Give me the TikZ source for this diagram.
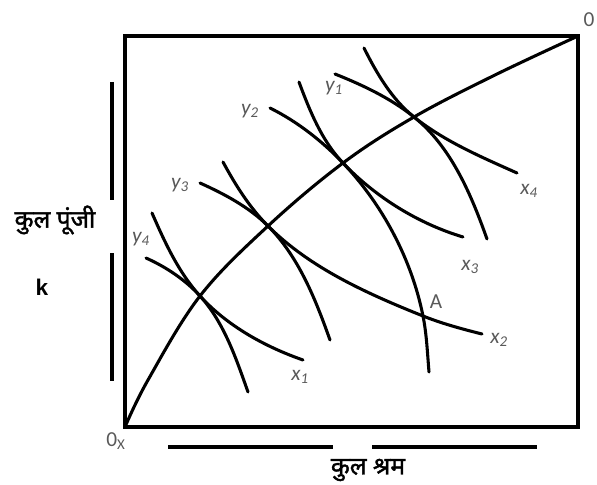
\documentclass[tikz,border=0pt]{standalone}
\usepackage{fontspec}
\setmainfont{Carlito}
\newfontfamily\hindi[Script=Devanagari, FakeBold=1.6]{Noto Sans}
\newfontfamily\boldsans{Liberation Sans}
\usepackage{xcolor}
\usepackage{tikz}
\usetikzlibrary{positioning, calc}
\definecolor{labelgray}{gray}{0.35}
\newcommand{\iso}[2]{#1\textsubscript{#2}}

\begin{document}
\begin{tikzpicture}[
    x=0.75pt, y=-0.75pt,
    box/.style={line width=2.4pt},
    curve/.style={line width=2.3pt, line cap=round},
    guide/.style={line width=2.4pt},
    lbl/.style={text=labelgray, font=\fontsize{16}{18}\selectfont\itshape, inner sep=0pt},
    hin/.style={font=\hindi\fontsize{18.5}{20}\selectfont, inner sep=0pt}
]
    \useasboundingbox (0,0) rectangle (597,485);

    % 箱图
    \coordinate (ox) at (125,427);
    \coordinate (oy) at (578,36);
    \draw[box] (ox) rectangle (oy);

    % 契约曲线上的切点
    \coordinate (p1) at (200,296);
    \coordinate (p2) at (268,226);
    \coordinate (p3) at (343,163);
    \coordinate (p4) at (414,117);
    \coordinate (a) at (423,316);

    % 契约曲线
    \draw[curve] plot[smooth, tension=0.6] coordinates
        {(ox) (148,380) (p1) (p2) (p3) (p4) (495,75) (oy)};

    % X 等产量线
    \draw[curve] (152,213) .. controls (164.8,242.3) and (178.5,272.3) .. (p1)
        .. controls (227.2,325.9) and (264.9,346.7) .. (303,360);
    \draw[curve] (223,162) .. controls (235.4,184.9) and (249.6,207.6) .. (p2)
        .. controls (310.2,268.2) and (367.6,293.8) .. (a)
        .. controls (442.1,323.6) and (462,329) .. (482,334);
    \draw[curve] (299,82) .. controls (309.7,110.8) and (321.8,140.8) .. (p3)
        .. controls (375.4,197) and (418,223.5) .. (463,237);
    \draw[curve] (364,48) .. controls (376.7,73.4) and (391.8,99.3) .. (p4)
        .. controls (444.5,141.4) and (481.3,157) .. (517,173);

    % Y 等产量线
    \draw[curve] (146,258) .. controls (166.1,267) and (185.2,279.7) .. (p1)
        .. controls (224.1,322.5) and (236,358.3) .. (248,392);
    \draw[curve] (200,183) .. controls (224.4,194) and (249,207) .. (p2)
        .. controls (298.6,256.6) and (315.5,299.2) .. (330,340);
    \draw[curve] (270,108) .. controls (297.3,121.6) and (322,140.9) .. (p3)
        .. controls (382.7,204.7) and (411.7,259.5) .. (a)
        .. controls (426.7,334.4) and (427.4,353.3) .. (429,372);
    \draw[curve] (335,74) .. controls (362.8,85.1) and (390.6,98.2) .. (p4)
        .. controls (451,146.6) and (471.1,194.3) .. (487,239);

    % 标注
    \node[lbl] (ly4) at (141,239) {\iso{y}{4}};
    \node[lbl] (ly3) at (180,185) {\iso{y}{3}};
    \node[lbl] (ly2) at (250,111) {\iso{y}{2}};
    \node[lbl] (ly1) at (334,88) {\iso{y}{1}};
    \node[lbl] (lx1) at (300,377) {\iso{x}{1}};
    \node[lbl] (lx2) at (499,340) {\iso{x}{2}};
    \node[lbl] (lx3) at (470,267) {\iso{x}{3}};
    \node[lbl] (lx4) at (529,191) {\iso{x}{4}};
    \node[lbl, font=\fontsize{16}{18}\selectfont] (la) at (436,302) {A};
    \node[lbl, font=\fontsize{16}{18}\selectfont] (lo) at (589,20) {0};
    \node[lbl, font=\fontsize{16}{18}\selectfont] (lox) at (116,441) {0\textsubscript{X}};

    % 坐标轴说明
    \coordinate (k1) at (112,82);  \coordinate (k2) at (112,200);
    \coordinate (k3) at (112,253); \coordinate (k4) at (112,381);
    \draw[guide] (k1) -- (k2);
    \draw[guide] (k3) -- (k4);
    \coordinate (l1) at (168,447); \coordinate (l2) at (333,447);
    \coordinate (l3) at (372,447); \coordinate (l4) at (537,447);
    \draw[guide] (l1) -- (l2);
    \draw[guide] (l3) -- (l4);

    \node[hin] (capital) at (55,220) {कुल पूंजी};
    \node[font=\boldsans\bfseries\fontsize{17}{20}\selectfont, inner sep=0pt] (kk) at (42,287) {k};
    \node[hin] (labour) at (368,470) {कुल श्रम};
\end{tikzpicture}
\end{document}
